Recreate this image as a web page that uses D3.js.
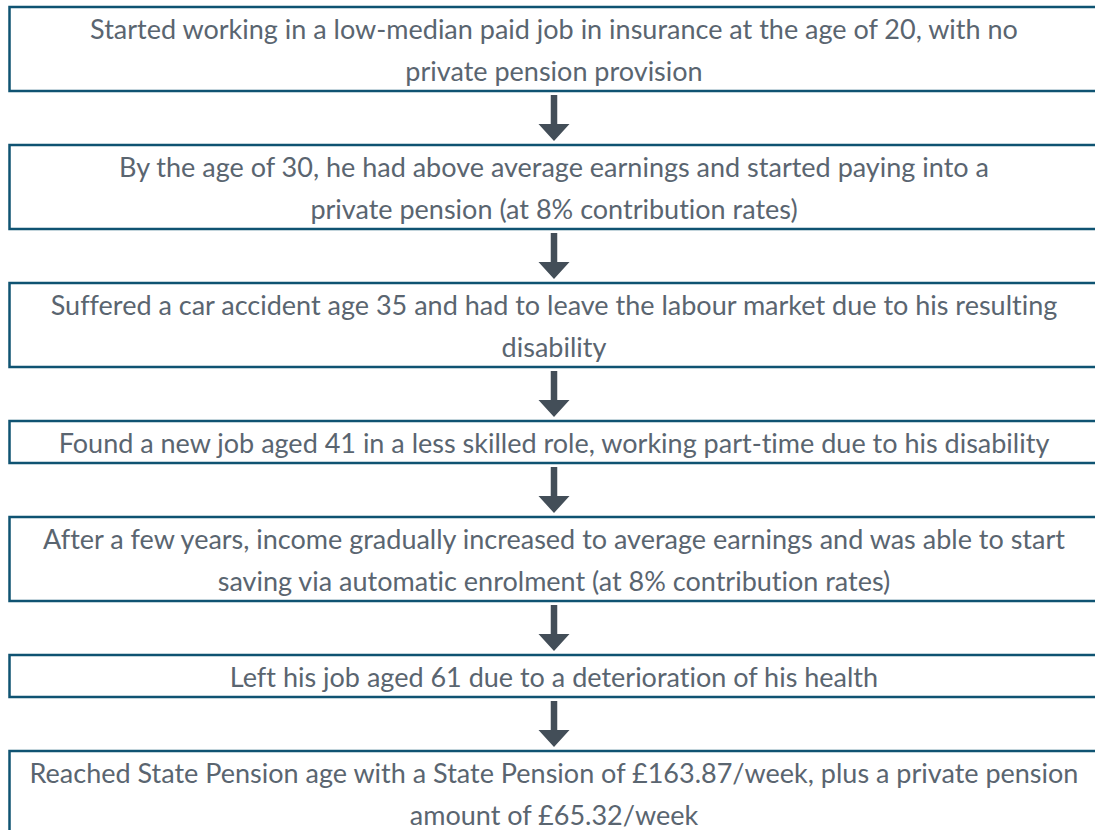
<!DOCTYPE html>
<html>
<head>
<meta charset="utf-8">
<script src="https://cdn.jsdelivr.net/npm/d3@7"></script>
<style>
  html, body { margin: 0; padding: 0; background: #fff; }
  text { font-family: Lato, "Open Sans", sans-serif; font-variant-ligatures: none; }
</style>
</head>
<body>
<svg id="chart" width="1095" height="830"></svg>
<script>
// each step of the life story, one entry per text line
const stepLines = [
  ['Started working in a low-median paid job in insurance at the age of 20, with no',
    'private pension provision'],
  ['By the age of 30, he had above average earnings and started paying into a',
    'private pension (at 8% contribution rates)'],
  ['Suffered a car accident age 35 and had to leave the labour market due to his resulting',
    'disability'],
  ['Found a new job aged 41 in a less skilled role, working part-time due to his disability'],
  ['After a few years, income gradually increased to average earnings and was able to start',
    'saving via automatic enrolment (at 8% contribution rates)'],
  ['Left his job aged 61 due to a deterioration of his health'],
  ['Reached State Pension age with a State Pension of £163.87/week, plus a private pension',
    'amount of £65.32/week']
]

const lineH = 42
const gap = 54
const top0 = 7
const boxLeft = 9.5
const boxRight = 1100
const cx = 554
const borderColor = '#0f5372'
const arrowColor = '#434e58'
const textColor = '#5a6570'

// stack the boxes down the page
let y = top0
const boxes = stepLines.map((lines, i) => {
  const h = lines.length * lineH
  const b = { i, lines, y, h }
  y += h + gap
  return b
})

const svg = d3.select('#chart')

const g = svg.selectAll('g.step')
  .data(boxes)
  .enter()
  .append('g')
  .attr('class', 'step')
  .attr('transform', d => `translate(0,${d.y})`)

g.append('rect')
  .attr('x', boxLeft)
  .attr('y', 0)
  .attr('width', boxRight - boxLeft)
  .attr('height', d => d.h)
  .attr('fill', '#fff')
  .attr('stroke', borderColor)
  .attr('stroke-width', 2.5)

g.selectAll('text')
  .data(d => d.lines)
  .enter()
  .append('text')
  .attr('x', cx)
  .attr('y', (d, j) => 31.5 + j * lineH)
  .attr('text-anchor', 'middle')
  .attr('fill', textColor)
  .style('font-size', '27px')
  .text(d => d)

// arrows between consecutive boxes
const arrows = boxes.slice(0, -1).map(b => ({
  from: b.y + b.h,
  to: boxes[b.i + 1].y
}))

const shaftW = 6.5
const headW = 31
const headH = 17

svg.selectAll('path.arrow')
  .data(arrows)
  .enter()
  .append('path')
  .attr('class', 'arrow')
  .attr('fill', arrowColor)
  .attr('d', d => {
    const y0 = d.from + 4
    const tip = d.to - 4
    const hy = tip - headH
    return `M${cx - shaftW / 2},${y0} L${cx + shaftW / 2},${y0} L${cx + shaftW / 2},${hy}` +
      ` L${cx + headW / 2},${hy} L${cx},${tip} L${cx - headW / 2},${hy} L${cx - shaftW / 2},${hy} Z`
  })
</script>
</body>
</html>
